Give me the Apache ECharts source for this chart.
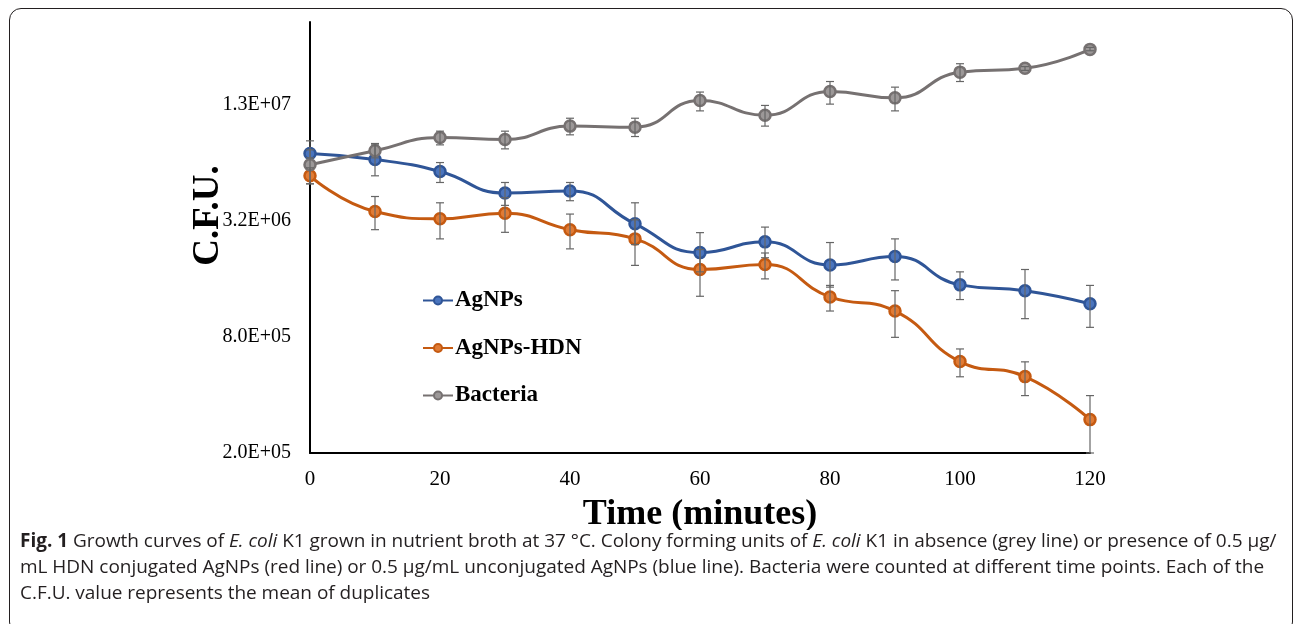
<!DOCTYPE html>
<html>
<head>
<meta charset="utf-8">
<script src="https://cdn.jsdelivr.net/npm/echarts@6/dist/echarts.min.js"></script>
<style>
    html, body { margin: 0; padding: 0; background: #fff; }
    .page { position: relative; width: 1295px; height: 624px; overflow: hidden; }
    .frame {
        position: absolute; left: 9px; top: 8px; width: 1284px; height: 626px;
        border: 1.5px solid #231f20; border-radius: 12px; box-sizing: border-box;
    }
    .ec-line { position: absolute; left: 0; top: 0; width: 1295px; height: 530px; }
    .caption {
        position: absolute; left: 20px; top: 527px; width: 1265px;
        font-family: "Open Sans", sans-serif;
        font-size: 19px; line-height: 26px; color: #231f20; white-space: nowrap;
        letter-spacing: -0.025px;
    }
    .caption b { font-weight: bold; }
</style>
</head>
<body>
<div class="page">
    <div class="frame"></div>
    <div class="ec-line" id="myChart"></div>
    <div class="caption">
        <b>Fig. 1</b> Growth curves of <i>E. coli</i> K1 grown in nutrient broth at 37 °C. Colony forming units of <i>E. coli</i> K1 in absence (grey line) or presence of 0.5 μg/<br>
        mL HDN conjugated AgNPs (red line) or 0.5 μg/mL unconjugated AgNPs (blue line). Bacteria were counted at different time points. Each of the<br>
        C.F.U. value represents the mean of duplicates
    </div>
</div>
<script>
// 时间点 (minutes)
const times = [0, 10, 20, 30, 40, 50, 60, 70, 80, 90, 100, 110, 120];

// AgNPs
const agnpsMean = [7.15e6, 6.66e6, 5.77e6, 4.46e6, 4.57e6, 3.09e6, 2.19e6, 2.49e6, 1.89e6, 2.09e6, 1.49e6, 1.39e6, 1.19e6];
const agnpsLow = [6.79e6, 5.48e6, 5.06e6, 3.85e6, 4.07e6, 2.41e6, 1.74e6, 2.06e6, 1.45e6, 1.58e6, 1.25e6, 9.95e5, 8.97e5];
const agnpsHigh = [7.47e6, 7.93e6, 6.42e6, 5.06e6, 5.06e6, 3.97e6, 2.78e6, 2.97e6, 2.47e6, 2.58e6, 1.74e6, 1.79e6, 1.48e6];

// AgNPs-HDN
const hdnMean = [5.48e6, 3.58e6, 3.28e6, 3.50e6, 2.88e6, 2.58e6, 1.79e6, 1.90e6, 1.29e6, 1.09e6, 5.96e5, 4.98e5, 2.98e5];
const hdnLow = [4.98e6, 2.88e6, 2.58e6, 2.79e6, 2.29e6, 1.88e6, 1.30e6, 1.60e6, 1.09e6, 7.96e5, 4.97e5, 3.97e5, 2.0e5];
const hdnHigh = [6.03e6, 4.28e6, 3.97e6, 4.22e6, 3.47e6, 3.24e6, 2.27e6, 2.18e6, 1.48e6, 1.39e6, 6.93e5, 5.94e5, 3.97e5];

// Bacteria
const bacMean = [6.25e6, 7.39e6, 8.65e6, 8.45e6, 9.92e6, 9.80e6, 1.346e7, 1.13e7, 1.50e7, 1.39e7, 1.89e7, 1.98e7, 2.48e7];
const bacLow = [4.98e6, 6.79e6, 7.93e6, 7.56e6, 8.94e6, 8.76e6, 1.19e7, 9.92e6, 1.29e7, 1.19e7, 1.69e7, 1.93e7, 2.44e7];
const bacHigh = [8.32e6, 8.06e6, 9.34e6, 9.34e6, 1.09e7, 1.09e7, 1.49e7, 1.27e7, 1.69e7, 1.58e7, 2.09e7, 2.02e7, 2.54e7];

// y轴刻度
const yTicks = [2.0e5, 8.0e5, 3.2e6, 1.28e7];

const seriesDefs = [
    { name: "AgNPs", mean: agnpsMean, low: agnpsLow, high: agnpsHigh, color: "#2f5597", fill: "#4a74bd" },
    { name: "AgNPs-HDN", mean: hdnMean, low: hdnLow, high: hdnHigh, color: "#c55a11", fill: "#e07b35" },
    { name: "Bacteria", mean: bacMean, low: bacLow, high: bacHigh, color: "#767171", fill: "#9c9898" }
];

const serifFont = "'Liberation Serif', 'Times New Roman', serif";

function sciLabel(v) {
    let parts = Number(v).toExponential(1).split("e");
    let n = parseInt(parts[1], 10);
    return parts[0] + "E" + (n < 0 ? "-" : "+") + String(Math.abs(n)).padStart(2, "0");
}

function errorBarItem(params, api) {
    let x = api.value(0);
    let lo = api.coord([x, api.value(1)]);
    let hi = api.coord([x, api.value(2)]);
    let cap = 4;
    let style = { stroke: "#666", lineWidth: 1.2, fill: null };
    return {
        type: "group",
        children: [
            { type: "line", shape: { x1: lo[0], y1: lo[1], x2: hi[0], y2: hi[1] }, style: style },
            { type: "line", shape: { x1: lo[0] - cap, y1: lo[1], x2: lo[0] + cap, y2: lo[1] }, style: style },
            { type: "line", shape: { x1: hi[0] - cap, y1: hi[1], x2: hi[0] + cap, y2: hi[1] }, style: style }
        ]
    };
}

let seriesArr = [];
seriesDefs.forEach((item) => {
    seriesArr.push({
        name: item.name,
        type: "line",
        smooth: 0.5,
        data: times.map((t, i) => [t, item.mean[i]]),
        symbol: "circle",
        symbolSize: 11,
        lineStyle: { color: item.color, width: 3 },
        itemStyle: { color: item.fill, borderColor: item.color, borderWidth: 2.5 },
        z: 3
    });
});
seriesDefs.forEach((item) => {
    seriesArr.push({
        name: item.name + " err",
        type: "custom",
        renderItem: errorBarItem,
        data: times.map((t, i) => [t, item.low[i], item.high[i]]),
        clip: false,
        z: 4,
        silent: true
    });
});

let myChart = echarts.init(document.getElementById("myChart"));
let option = {
    animation: false,
    grid: { left: 310, right: 205, top: 22, bottom: 77, containLabel: false, outerBoundsMode: "none" },
    legend: {
        data: seriesDefs.map((s) => s.name),
        orient: "vertical",
        left: 422,
        top: 289,
        padding: 0,
        itemWidth: 30,
        itemHeight: 10,
        itemGap: 24.5,
        textStyle: { fontFamily: serifFont, fontWeight: "bold", fontSize: 23, color: "#000", padding: [0, 0, 0, -3] }
    },
    xAxis: {
        type: "value",
        min: 0,
        max: 120,
        interval: 20,
        name: "Time (minutes)",
        nameLocation: "middle",
        nameGap: 44,
        nameTextStyle: { fontFamily: serifFont, fontWeight: "bold", fontSize: 36, color: "#000" },
        axisLine: { lineStyle: { color: "#000", width: 2 } },
        axisTick: { show: false },
        axisLabel: { fontFamily: serifFont, fontSize: 21, color: "#000", margin: 16 },
        splitLine: { show: false }
    },
    yAxis: {
        type: "log",
        logBase: 4,
        min: 2.0e5,
        max: 3.44e7,
        name: "C.F.U.",
        nameLocation: "middle",
        nameGap: 83,
        nameMoveOverlap: false,
        nameRotate: 90,
        nameTextStyle: { fontFamily: serifFont, fontWeight: "bold", fontSize: 37, color: "#000", padding: [0, 0, 0, 44] },
        axisLine: { show: true, lineStyle: { color: "#000", width: 2 } },
        axisTick: { show: false },
        axisLabel: {
            customValues: yTicks,
            fontFamily: serifFont,
            fontSize: 20,
            color: "#000",
            margin: 19,
            formatter: sciLabel
        },
        splitLine: { show: false }
    },
    series: seriesArr
};
myChart.setOption(option);
</script>
</body>
</html>
